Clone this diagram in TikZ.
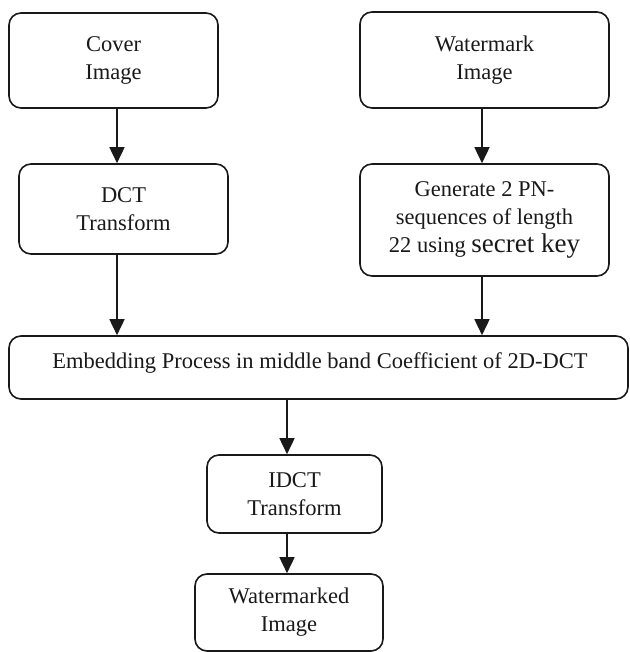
\documentclass[tikz,border=0pt]{standalone}
\usepackage{fontspec}
\setmainfont{Liberation Serif}
\usetikzlibrary{arrows.meta}
\tikzset{
  flowbox/.style={draw=black!90, line width=1.6pt, rounded corners=12pt, inner sep=0pt,
    align=center, font=\fontsize{22.5}{28}\selectfont, text=black!90},
  flowarrow/.style={line width=1.6pt, draw=black!90, -{Triangle[length=16pt,width=15pt]}}
}
\begin{document}
\begin{tikzpicture}[x=1pt,y=-1pt]
\useasboundingbox (0,0) rectangle (629,652);
\node[flowbox, minimum width=209pt, minimum height=95pt] (cover) at (113.5,60.5) {Cover\\Image};
\node[flowbox, minimum width=209pt, minimum height=90pt] (dct) at (123.5,209) {DCT\\Transform};
\node[flowbox, minimum width=249pt, minimum height=96pt] (wm) at (484.5,60) {Watermark\\Image};
\node[flowbox, minimum width=249pt, minimum height=112pt] (pn) at (484.5,220) {Generate 2 PN-\\sequences of length\\22 using {\fontsize{27}{28}\selectfont secret key}};
\node[flowbox, minimum width=619pt, minimum height=63pt] (emb) at (318.5,367.5) {};
\node[font=\fontsize{22.5}{28}\selectfont, text=black!90, inner sep=0pt] (embtext) at (320,363) {Embedding Process in middle band Coefficient of 2D-DCT};
\node[flowbox, minimum width=175pt, minimum height=78pt] (idct) at (294.5,494) {IDCT\\Transform};
\node[flowbox, minimum width=188pt, minimum height=77pt] (out) at (289,612.5) {Watermarked\\Image};
\draw[flowarrow] (cover.south -| 117,0) -- (dct.north -| 117,0);
\draw[flowarrow] (wm.south -| 482,0) -- (pn.north -| 482,0);
\draw[flowarrow] (dct.south -| 117,0) -- (emb.north -| 117,0);
\draw[flowarrow] (pn.south -| 482,0) -- (emb.north -| 482,0);
\draw[flowarrow] (emb.south -| 287,0) -- (idct.north -| 287,0);
\draw[flowarrow] (idct.south -| 287,0) -- (out.north -| 287,0);
\end{tikzpicture}
\end{document}
